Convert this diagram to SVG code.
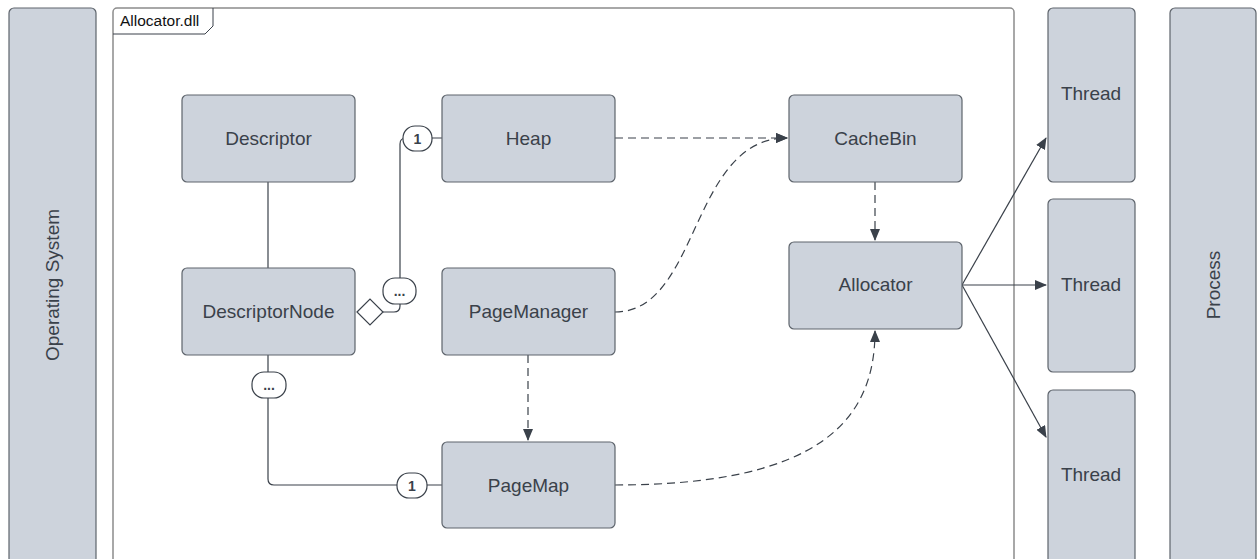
<svg xmlns="http://www.w3.org/2000/svg" width="1259" height="559" viewBox="0 0 1259 559">
<defs>
<style>
.node{fill:#cdd3dc;stroke:#5e646c;stroke-width:1.2}
.lbl{font-family:"Liberation Sans",Arial,sans-serif;font-size:19px;fill:#3a414a;text-anchor:middle;dominant-baseline:central}
.tag{fill:#fff;stroke:#3a414a;stroke-width:1.2}
.tagt{font-family:"Liberation Sans",Arial,sans-serif;font-size:14px;font-weight:bold;fill:#3a414a;text-anchor:middle;dominant-baseline:central}
.ln{fill:none;stroke:#3a414a;stroke-width:1.2}
.dash{fill:none;stroke:#3a414a;stroke-width:1.2;stroke-dasharray:8,5}
</style>
<marker id="arr" viewBox="0 0 12 10" refX="11" refY="5" markerWidth="12" markerHeight="10" markerUnits="userSpaceOnUse" orient="auto">
<path d="M0,0 L12,5 L0,10 Z" fill="#3a414a"/>
</marker>
</defs>
<rect width="1259" height="559" fill="#fff"/>

<g id="frame">
<rect x="113" y="8" width="901" height="570" rx="4" fill="#fff" stroke="#8c8c8c" stroke-width="1.5"/>
<path d="M113,34 L205,34 L213,26 L213,8" fill="none" stroke="#3a414a" stroke-width="1"/>
<text x="120" y="20" font-family="Liberation Sans,Arial,sans-serif" font-size="15.5" fill="#111" dominant-baseline="central">Allocator.dll</text>
</g>

<g id="os"><rect class="node" x="9" y="8" width="87" height="570" rx="5"/>
<text class="lbl" transform="translate(52,285) rotate(-90)">Operating System</text></g>
<g id="process"><rect class="node" x="1170" y="8" width="86" height="570" rx="5"/>
<text class="lbl" transform="translate(1213,285) rotate(-90)">Process</text></g>
<g id="thread1"><rect class="node" x="1048" y="8" width="87" height="174" rx="5"/><text class="lbl" x="1091" y="93">Thread</text></g>
<g id="thread2"><rect class="node" x="1048" y="199" width="87" height="173" rx="5"/><text class="lbl" x="1091" y="284">Thread</text></g>
<g id="thread3"><rect class="node" x="1048" y="390" width="87" height="190" rx="5"/><text class="lbl" x="1091" y="474">Thread</text></g>

<g id="connectors">
<line class="ln" x1="268" y1="182" x2="268" y2="268"/>
<path class="ln" d="M383,312 L394,312 Q400,312 400,306 L400,144 Q400,138 406,138 L442,138"/>
<path class="ln" d="M268,355 L268,479 Q268,485 274,485 L442,485"/>
<line class="dash" x1="615" y1="138" x2="787" y2="138" marker-end="url(#arr)"/>
<path class="dash" d="M615,312 C700,312 690,138 787,138" marker-end="url(#arr)"/>
<line class="dash" x1="875" y1="182" x2="875" y2="240" marker-end="url(#arr)"/>
<line class="dash" x1="528" y1="355" x2="528" y2="440" marker-end="url(#arr)"/>
<path class="dash" d="M615,485 C820,485 875,420 875,331" marker-end="url(#arr)"/>
<line class="ln" x1="962" y1="285" x2="1046" y2="138" marker-end="url(#arr)"/>
<line class="ln" x1="962" y1="285" x2="1046" y2="285" marker-end="url(#arr)" stroke="#6a6f76"/>
<line class="ln" x1="962" y1="285" x2="1046" y2="437" marker-end="url(#arr)"/>
<path d="M357,312 L370,299 L383,312 L370,325 Z" fill="#fff" stroke="#3a414a" stroke-width="1.2"/>
<rect class="tag" x="383" y="278" width="33" height="26" rx="12"/><text class="tagt" x="399.5" y="291">...</text>
<rect class="tag" x="403" y="126" width="29" height="25" rx="12"/><text class="tagt" x="417.5" y="138.5">1</text>
<rect class="tag" x="252" y="372" width="34" height="26" rx="12"/><text class="tagt" x="269" y="385">...</text>
<rect class="tag" x="397" y="473" width="30" height="25" rx="12"/><text class="tagt" x="412" y="485.5">1</text>
</g>

<g id="descriptor"><rect class="node" x="182" y="95" width="173" height="87" rx="5"/><text class="lbl" x="268.5" y="138">Descriptor</text></g>
<g id="heap"><rect class="node" x="442" y="95" width="173" height="87" rx="5"/><text class="lbl" x="528.5" y="138">Heap</text></g>
<g id="cachebin"><rect class="node" x="789" y="95" width="173" height="87" rx="5"/><text class="lbl" x="875.5" y="138">CacheBin</text></g>
<g id="descriptornode"><rect class="node" x="182" y="268" width="173" height="87" rx="5"/><text class="lbl" x="268.5" y="311">DescriptorNode</text></g>
<g id="pagemanager"><rect class="node" x="442" y="268" width="173" height="87" rx="5"/><text class="lbl" x="528.5" y="311">PageManager</text></g>
<g id="allocator"><rect class="node" x="789" y="242" width="173" height="87" rx="5"/><text class="lbl" x="875.5" y="284">Allocator</text></g>
<g id="pagemap"><rect class="node" x="442" y="442" width="173" height="86" rx="5"/><text class="lbl" x="528.5" y="485">PageMap</text></g>
</svg>
